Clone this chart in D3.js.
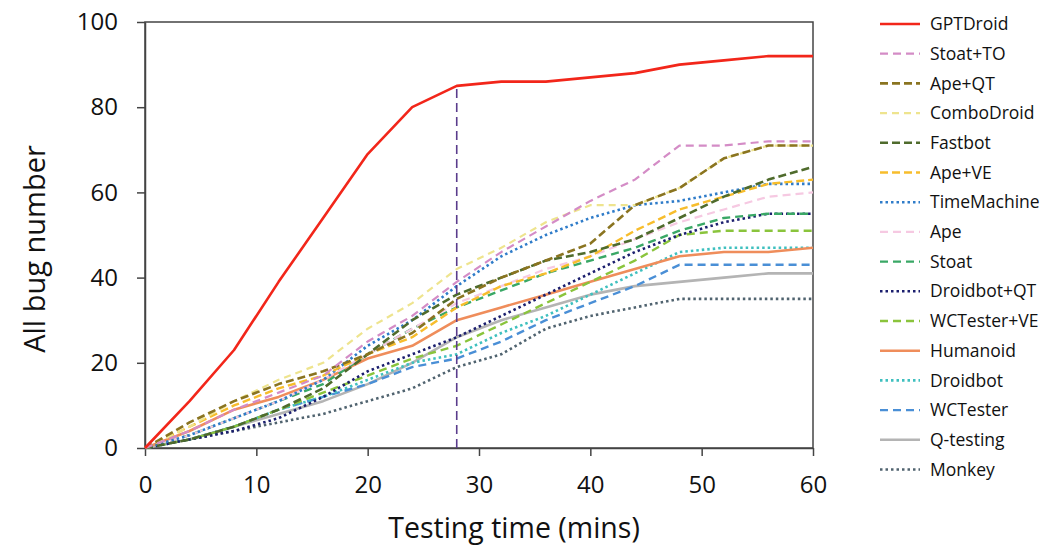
<!DOCTYPE html>
<html>
<head>
<meta charset="utf-8">
<script src="https://cdn.jsdelivr.net/npm/d3@7"></script>
<style>
  body { margin: 0; background: #fff; }
  svg { font-family: "Open Sans", sans-serif; }
</style>
</head>
<body>
<svg width="1044" height="547"></svg>
<script>
// Data: bugs found, sampled every 4 minutes
const times = [0, 4, 8, 12, 16, 20, 24, 28, 32, 36, 40, 44, 48, 52, 56, 60];
const tools = ["GPTDroid", "Stoat+TO", "Ape+QT", "ComboDroid", "Fastbot", "Ape+VE", "TimeMachine", "Ape",
  "Stoat", "Droidbot+QT", "WCTester+VE", "Humanoid", "Droidbot", "WCTester", "Q-testing", "Monkey"];

const gptdroid    = [0, 11, 23, 39, 54, 69, 80, 85, 86, 86, 87, 88, 90, 91, 92, 92];
const stoatTO     = [0, 4, 9, 13, 17, 25, 31, 39, 46, 52, 58, 63, 71, 71, 72, 72];
const apeQT       = [0, 6, 11, 15, 18, 22, 27, 35, 40, 44, 48, 57, 61, 68, 71, 71];
const comboDroid  = [0, 5, 11, 16, 20, 28, 34, 42, 47, 53, 57, 57, 61, 68, 71, 71];
const fastbot     = [0, 2, 5, 9, 14, 22, 30, 36, 40, 44, 46, 49, 54, 59, 63, 66];
const apeVE       = [0, 5, 10, 14, 17, 22, 26, 33, 38, 41, 45, 51, 56, 59, 62, 63];
const timeMachine = [0, 3, 7, 11, 16, 24, 30, 38, 45, 50, 54, 57, 58, 60, 62, 62];
const ape         = [0, 3, 7, 11, 16, 22, 28, 34, 38, 42, 45, 49, 53, 56, 59, 60];
const stoat       = [0, 3, 7, 11, 15, 22, 28, 33, 37, 41, 44, 47, 51, 54, 55, 55];
const droidbotQT  = [0, 2, 4, 7, 12, 18, 22, 26, 31, 36, 41, 46, 50, 53, 55, 55];
const wctesterVE  = [0, 2, 5, 9, 13, 17, 21, 24, 29, 34, 39, 44, 50, 51, 51, 51];
const humanoid    = [0, 4, 9, 12, 16, 21, 24, 30, 33, 36, 39, 42, 45, 46, 46, 47];
const droidbot    = [0, 2, 5, 9, 12, 16, 20, 22, 27, 31, 36, 41, 46, 47, 47, 47];
const wctester    = [0, 2, 5, 9, 12, 15, 19, 21, 25, 30, 34, 38, 43, 43, 43, 43];
const qtesting    = [0, 2, 5, 8, 11, 15, 20, 26, 30, 33, 36, 38, 39, 40, 41, 41];
const monkey      = [0, 2, 4, 6, 8, 11, 14, 19, 22, 28, 31, 33, 35, 35, 35, 35];

const values = [gptdroid, stoatTO, apeQT, comboDroid, fastbot, apeVE, timeMachine, ape,
  stoat, droidbotQT, wctesterVE, humanoid, droidbot, wctester, qtesting, monkey];

const xTicks = [0, 10, 20, 30, 40, 50, 60];
const yTicks = [0, 20, 40, 60, 80, 100];
const markTime = 28;

// line styles per tool
const styles = [
  { color: "#f2261a", dash: null, w: 2.6 },
  { color: "#d48cc6", dash: "8,5", w: 2.2 },
  { color: "#8a7420", dash: "8,4", w: 2.6 },
  { color: "#eee48e", dash: "7,5", w: 2.2 },
  { color: "#4f6b2c", dash: "8,4", w: 2.6 },
  { color: "#f7bd2c", dash: "8,4", w: 2.4 },
  { color: "#2f7cc9", dash: "2.5,3", w: 2.6 },
  { color: "#f6c9e2", dash: "8,5", w: 2.2 },
  { color: "#3aa866", dash: "8,5", w: 2.4 },
  { color: "#1b1f6e", dash: "2.5,3", w: 2.6 },
  { color: "#8ac43c", dash: "8,5", w: 2.4 },
  { color: "#ef8d5b", dash: null, w: 2.6 },
  { color: "#3fc0bf", dash: "2.5,3", w: 2.6 },
  { color: "#4a8fd6", dash: "8,5", w: 2.4 },
  { color: "#b4b4b4", dash: null, w: 2.6 },
  { color: "#50636f", dash: "2.5,3", w: 2.6 }
];

const svg = d3.select("svg");
const plotLeft = 145, plotRight = 813, plotTop = 22, plotBottom = 448;

const x = d3.scaleLinear().domain([0, 60]).range([plotLeft, plotRight]);
const y = d3.scaleLinear().domain([0, 100]).range([plotBottom, plotTop]);

// frame
svg.append("rect")
  .attr("x", plotLeft).attr("y", plotTop)
  .attr("width", plotRight - plotLeft).attr("height", plotBottom - plotTop)
  .attr("fill", "none").attr("stroke", "#444").attr("stroke-width", 1.5);

// axes
const xAxis = svg.append("g")
  .attr("transform", `translate(0,${plotBottom})`)
  .call(d3.axisBottom(x).tickValues(xTicks).tickSize(8).tickPadding(20).tickSizeOuter(0));
const yAxis = svg.append("g")
  .attr("transform", `translate(${plotLeft},0)`)
  .call(d3.axisLeft(y).tickValues(yTicks).tickSize(8).tickPadding(19).tickSizeOuter(0));

[xAxis, yAxis].forEach(g => {
  g.select(".domain").attr("stroke", "#444").attr("stroke-width", 1.5);
  g.selectAll(".tick line").attr("stroke", "#444").attr("stroke-width", 1.5);
  g.selectAll(".tick text").attr("fill", "#111").style("font-size", "24px")
    .style("font-family", "'Open Sans', sans-serif");
});

// axis titles
svg.append("text")
  .attr("x", 514).attr("y", 538)
  .attr("text-anchor", "middle")
  .style("font-size", "28.5px").attr("fill", "#111")
  .text("Testing time (mins)");

svg.append("text")
  .attr("transform", `translate(45,${(plotTop + plotBottom) / 2 + 14}) rotate(-90)`)
  .attr("text-anchor", "middle")
  .style("font-size", "29px").attr("fill", "#111")
  .text("All bug number");

// lines
const line = d3.line()
  .x((d, i) => x(times[i]))
  .y(d => y(d));

const lines = svg.append("g");
for (let k = values.length - 1; k >= 0; k--) {
  lines.append("path")
    .datum(values[k])
    .attr("d", line)
    .attr("fill", "none")
    .attr("stroke", styles[k].color)
    .attr("stroke-width", styles[k].w)
    .attr("stroke-dasharray", styles[k].dash)
    .attr("stroke-linejoin", "round");
}

// marker line at 28 min
svg.append("line")
  .attr("x1", x(markTime)).attr("x2", x(markTime))
  .attr("y1", y(0)).attr("y2", y(gptdroid[times.indexOf(markTime)]))
  .attr("stroke", "#5a3c8c").attr("stroke-width", 1.6)
  .attr("stroke-dasharray", "9,5");

// legend
const legend = svg.append("g").attr("transform", "translate(880,24)");
tools.forEach((name, i) => {
  const row = legend.append("g").attr("transform", `translate(0,${i * 29.7})`);
  row.append("line")
    .attr("x1", 0).attr("x2", 40)
    .attr("stroke", styles[i].color)
    .attr("stroke-width", styles[i].w)
    .attr("stroke-dasharray", styles[i].dash);
  row.append("text")
    .attr("x", 50).attr("y", 0).attr("dy", "0.35em")
    .style("font-size", "17.5px").attr("fill", "#111")
    .text(name);
});
</script>
</body>
</html>
